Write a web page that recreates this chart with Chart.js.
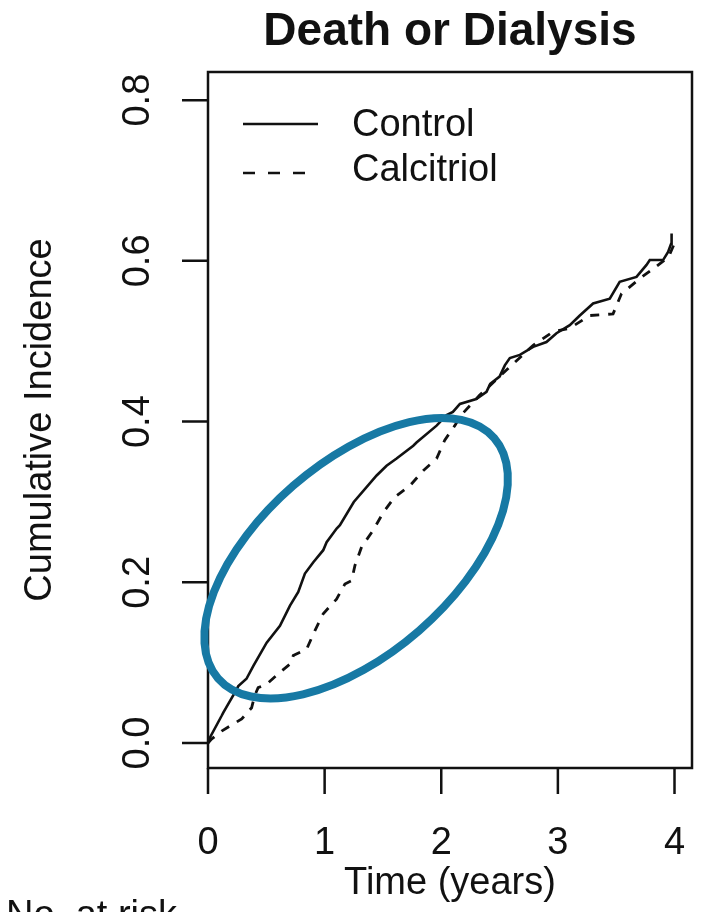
<!DOCTYPE html>
<html>
<head>
<meta charset="utf-8">
<script src="https://cdn.jsdelivr.net/npm/chart.js@4.4.1/dist/chart.umd.min.js"></script>
<style>
  html, body { margin: 0; padding: 0; background: #fff; }
  #wrap { width: 702px; height: 912px; position: relative; overflow: hidden; }
</style>
</head>
<body>
<div id="wrap"><canvas id="chart" width="702" height="912"></canvas></div>
<script>
// values (time in years, cumulative incidence)
const seriesNames = ['Control', 'Calcitriol'];

const controlTime = [0, 0.017, 0.117, 0.131, 0.231, 0.26, 0.33, 0.389, 0.503, 0.617, 0.703, 0.774,
  0.831, 0.903, 0.988, 1.017, 1.103, 1.131, 1.25, 1.446, 1.531, 1.617, 1.76, 1.788, 1.96, 2.046,
  2.10, 2.16, 2.30, 2.388, 2.42, 2.50, 2.545, 2.588, 2.674, 2.788, 2.902, 2.988, 3.102, 3.188,
  3.302, 3.445, 3.53, 3.674, 3.76, 3.788, 3.902, 3.945, 3.97, 3.975];
const controlInc = [0, 0.007, 0.034, 0.038, 0.063, 0.071, 0.080, 0.096, 0.125, 0.146, 0.171, 0.188,
  0.211, 0.225, 0.240, 0.250, 0.267, 0.271, 0.300, 0.333, 0.345, 0.354, 0.370, 0.374, 0.395, 0.408,
  0.412, 0.422, 0.428, 0.437, 0.447, 0.456, 0.470, 0.479, 0.483, 0.493, 0.499, 0.510, 0.520, 0.532,
  0.547, 0.553, 0.574, 0.580, 0.595, 0.601, 0.601, 0.611, 0.621, 0.634];

const calcTime = [0, 0.03, 0.117, 0.289, 0.374, 0.40, 0.43, 0.50, 0.60, 0.717, 0.731, 0.846, 0.917,
  0.988, 1.102, 1.174, 1.231, 1.26, 1.317, 1.417, 1.503, 1.60, 1.73, 1.845, 1.96, 2.03, 2.116,
  2.17, 2.33, 2.573, 2.788, 2.96, 3.10, 3.273, 3.473, 3.545, 3.702, 3.816, 3.95, 4.0];
const calcInc = [0, 0.005, 0.015, 0.030, 0.044, 0.059, 0.069, 0.073, 0.086, 0.100, 0.109, 0.117, 0.140,
  0.161, 0.179, 0.198, 0.202, 0.221, 0.244, 0.265, 0.287, 0.306, 0.320, 0.339, 0.354, 0.377, 0.395,
  0.408, 0.433, 0.466, 0.495, 0.512, 0.516, 0.532, 0.534, 0.559, 0.578, 0.590, 0.605, 0.622];

const xTicks = [0, 1, 2, 3, 4];
const xTickLabels = ['0', '1', '2', '3', '4'];
const yTicks = [0, 0.2, 0.4, 0.6, 0.8];
const yTickLabels = ['0.0', '0.2', '0.4', '0.6', '0.8'];

const FONT = '"Liberation Sans", Arial, Helvetica, sans-serif';
const INK = '#111';

function toPoints(ts, vs) {
  return ts.map((t, i) => ({ x: t, y: vs[i] }));
}

// R style frame, axes, legend, text and the highlight ellipse
const rFrame = {
  id: 'rFrame',
  afterDraw(chart) {
    const { ctx, chartArea: a, scales: { x, y } } = chart;
    ctx.save();
    ctx.strokeStyle = INK;
    ctx.fillStyle = INK;
    ctx.lineWidth = 2.5;
    ctx.strokeRect(a.left, a.top, a.right - a.left, a.bottom - a.top);

    // x axis ticks
    ctx.beginPath();
    xTicks.forEach(v => {
      const px = x.getPixelForValue(v);
      ctx.moveTo(px, a.bottom);
      ctx.lineTo(px, a.bottom + 26);
    });
    ctx.stroke();
    ctx.font = '38px ' + FONT;
    ctx.textAlign = 'center';
    ctx.textBaseline = 'middle';
    xTicks.forEach((v, i) => ctx.fillText(xTickLabels[i], x.getPixelForValue(v), 844));

    // y axis ticks, labels turned like R
    ctx.beginPath();
    yTicks.forEach(v => {
      const py = y.getPixelForValue(v);
      ctx.moveTo(a.left, py);
      ctx.lineTo(a.left - 26, py);
    });
    ctx.stroke();
    yTicks.forEach((v, i) => {
      ctx.save();
      ctx.translate(139, y.getPixelForValue(v));
      ctx.rotate(-Math.PI / 2);
      ctx.fillText(yTickLabels[i], 0, 0);
      ctx.restore();
    });

    // axis titles
    ctx.fillText('Time (years)', (a.left + a.right) / 2, 884);
    ctx.save();
    ctx.translate(41, (a.top + a.bottom) / 2);
    ctx.rotate(-Math.PI / 2);
    ctx.fillText('Cumulative Incidence', 0, 0);
    ctx.restore();

    ctx.textAlign = 'left';
    ctx.textBaseline = 'alphabetic';
    ctx.fillText('No. at risk', 6, 927);

    // main title
    ctx.font = 'bold 46px ' + FONT;
    ctx.textAlign = 'center';
    ctx.fillText('Death or Dialysis', (a.left + a.right) / 2, 45);

    // legend
    ctx.lineWidth = 2.5;
    ctx.beginPath();
    ctx.moveTo(243, 124); ctx.lineTo(318, 124);
    ctx.stroke();
    ctx.setLineDash([12, 13]);
    ctx.beginPath();
    ctx.moveTo(243, 173); ctx.lineTo(318, 173);
    ctx.stroke();
    ctx.setLineDash([]);
    ctx.font = '38px ' + FONT;
    ctx.textAlign = 'left';
    ctx.textBaseline = 'middle';
    ctx.fillText(seriesNames[0], 352, 126);
    ctx.fillText(seriesNames[1], 352, 171);

    // highlight ellipse
    const cx = x.getPixelForValue(1.27);
    const cy = y.getPixelForValue(0.23);
    ctx.strokeStyle = '#1779a4';
    ctx.lineWidth = 8;
    ctx.beginPath();
    ctx.ellipse(cx, cy, 183, 96, -41 * Math.PI / 180, 0, Math.PI * 2);
    ctx.stroke();
    ctx.restore();
  }
};

new Chart(document.getElementById('chart'), {
  type: 'line',
  data: {
    datasets: [
      {
        label: seriesNames[0],
        data: toPoints(controlTime, controlInc),
        borderColor: INK,
        borderWidth: 2.6,
        pointRadius: 0,
        fill: false,
        tension: 0
      },
      {
        label: seriesNames[1],
        data: toPoints(calcTime, calcInc),
        borderColor: INK,
        borderWidth: 2.8,
        borderDash: [9, 9],
        pointRadius: 0,
        fill: false,
        tension: 0
      }
    ]
  },
  options: {
    responsive: false,
    animation: false,
    layout: { padding: { left: 208, right: 10, top: 72, bottom: 144 } },
    plugins: { legend: { display: false }, tooltip: { enabled: false } },
    scales: {
      x: { type: 'linear', min: 0, max: 4.15, display: false },
      y: { type: 'linear', min: -0.031, max: 0.835, display: false }
    }
  },
  plugins: [rFrame]
});
</script>
</body>
</html>
